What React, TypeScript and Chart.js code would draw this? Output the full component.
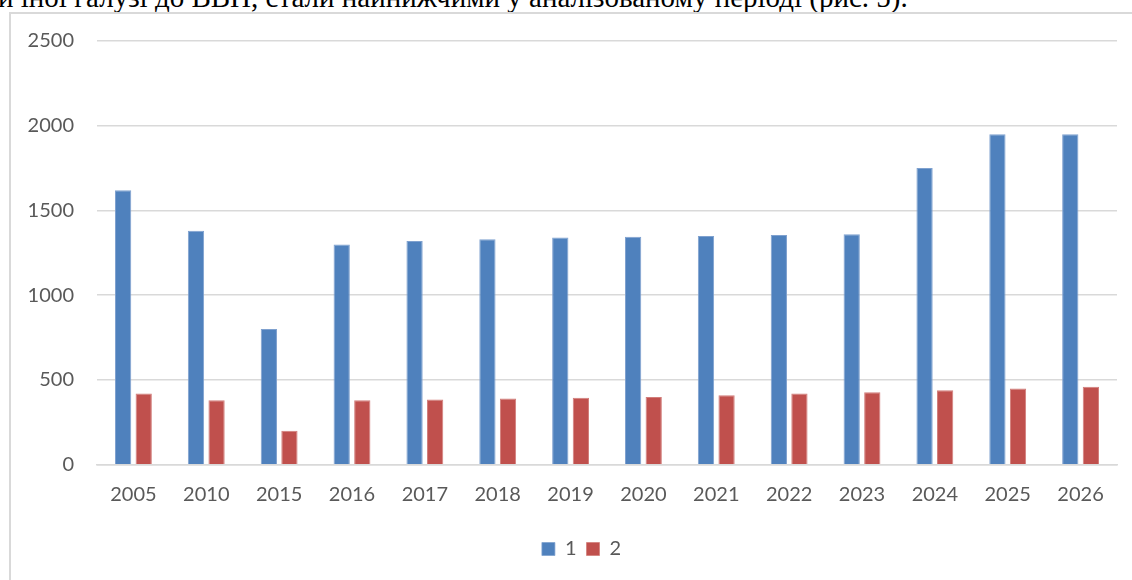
import React, { useEffect, useRef } from "react";
import { Chart, registerables } from "chart.js";

Chart.register(...registerables);

const categories = ["2005", "2010", "2015", "2016", "2017", "2018", "2019", "2020", "2021", "2022", "2023", "2024", "2025", "2026"];
const series1 = [1620, 1380, 800, 1300, 1320, 1330, 1340, 1345, 1350, 1355, 1360, 1750, 1950, 1950];
const series2 = [420, 380, 200, 380, 385, 390, 395, 400, 410, 420, 428, 440, 450, 460];
const seriesNames = ["1", "2"];
const yTicks = { min: 0, max: 2500, step: 500 };
const headerText = "и іної галузі до ВВП, стали найнижчими у аналізованому періоді (рис. 5).";

const shiftLegend = {
  id: "shiftLegend",
  afterLayout(chart: any) {
    const l = chart.legend;
    if (l) {
      l.left += 23;
      l.right += 23;
    }
  },
};

export default function App() {
  const canvasRef = useRef<HTMLCanvasElement | null>(null);

  useEffect(() => {
    document.body.style.margin = "0";
    const canvas = canvasRef.current;
    if (!canvas) return;
    const chart = new Chart(canvas, {
      type: "bar",
      plugins: [shiftLegend],
      data: {
        labels: categories,
        datasets: [
          {
            label: seriesNames[0],
            data: series1,
            backgroundColor: "#4F81BD",
            borderColor: "#7FA1CF",
            borderWidth: { top: 1, left: 1, right: 1, bottom: 0 },
            barPercentage: 0.79,
            categoryPercentage: 0.565,
          },
          {
            label: seriesNames[1],
            data: series2,
            backgroundColor: "#C0504D",
            borderColor: "#D27D7A",
            borderWidth: { top: 1, left: 1, right: 1, bottom: 0 },
            barPercentage: 0.79,
            categoryPercentage: 0.565,
          },
        ],
      },
      options: {
        animation: false,
        responsive: false,
        maintainAspectRatio: false,
        layout: { padding: { top: 41, right: 15, left: 0, bottom: 11 } },
        plugins: {
          tooltip: { enabled: false },
          legend: {
            position: "bottom",
            labels: {
              boxWidth: 13,
              boxHeight: 13,
              padding: 10,
              color: "#595959",
              font: { family: "Lato", size: 20 },
            },
          },
        },
        scales: {
          x: {
            grid: { display: false, drawTicks: false },
            border: { display: true, color: "#d9d9d9", width: 1.5 },
            ticks: {
              color: "#595959",
              font: { family: "Lato", size: 20 },
              padding: 18,
              maxRotation: 0,
            },
            afterFit: (scale: any) => {
              scale.height = 64.3;
            },
          },
          y: {
            min: yTicks.min,
            max: yTicks.max,
            ticks: {
              stepSize: yTicks.step,
              color: "#595959",
              font: { family: "Lato", size: 20 },
              padding: 23,
              callback: (v: any) => String(v),
            },
            grid: { color: "#d9d9d9", lineWidth: 1.5, drawTicks: false },
            border: { display: false },
            afterFit: (scale: any) => {
              scale.width = 97;
            },
          },
        },
      },
    });
    return () => chart.destroy();
  }, []);

  return (
    <div style={{ position: "relative", width: 1132, height: 580, overflow: "hidden", background: "#fff" }}>
      <div
        style={{
          position: "absolute",
          left: 0,
          top: 0,
          width: 1132,
          height: 12,
          overflow: "hidden",
        }}
      >
        <div
          style={{
            position: "absolute",
            left: -2,
            top: -19,
            whiteSpace: "nowrap",
            fontFamily: "'Liberation Serif', 'Times New Roman', serif",
            fontSize: 29,
            color: "#000",
          }}
        >
          {headerText}
        </div>
      </div>
      <div
        style={{
          position: "absolute",
          left: 9,
          top: 12,
          width: 1140,
          height: 580,
          border: "2px solid #d9d9d9",
          boxSizing: "border-box",
        }}
      />
      <canvas ref={canvasRef} width={1132} height={580} style={{ position: "absolute", left: 0, top: 0 }} />
    </div>
  );
}
